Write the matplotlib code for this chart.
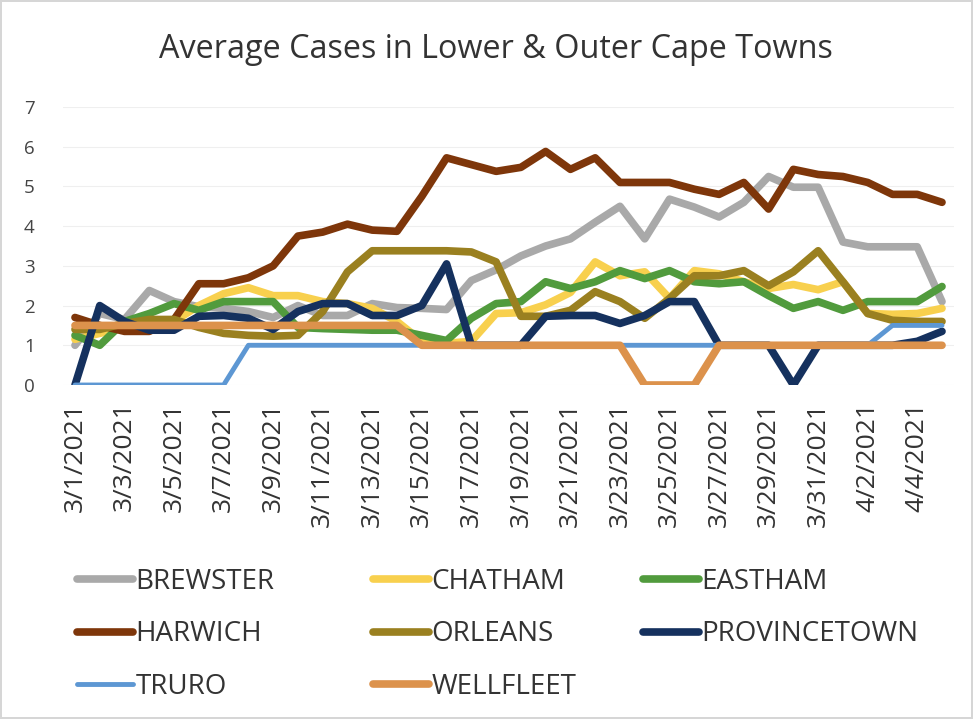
import numpy as np
import pandas as pd
import matplotlib
matplotlib.use('Agg')
import matplotlib.pyplot as plt

plt.rcParams['font.family'] = ['Open Sans', 'DejaVu Sans']

# daily dates, 3/1/2021 .. 4/5/2021
dates = pd.date_range('2021-03-01', '2021-04-05', freq='D')
date_labels = ['%d/%d/%d' % (d.month, d.day, d.year) for d in dates]

towns = ['BREWSTER', 'CHATHAM', 'EASTHAM', 'HARWICH', 'ORLEANS',
         'PROVINCETOWN', 'TRURO', 'WELLFLEET']

brewster = [1.0, 1.8, 1.65, 2.38, 2.1, 1.97, 1.93, 1.85, 1.7, 2.0, 1.75, 1.75,
            2.05, 1.95, 1.93, 1.9, 2.63, 2.9, 3.25, 3.5, 3.68, 4.1, 4.5, 3.68,
            4.68, 4.48, 4.23, 4.6, 5.25, 4.98, 4.98, 3.6, 3.48, 3.48, 3.48, 2.1]
chatham = [1.15, 1.3, 1.45, 1.55, 1.6, 2.0, 2.3, 2.45, 2.25, 2.25, 2.1, 2.05,
           1.93, 1.6, 1.1, 1.05, 1.1, 1.8, 1.82, 2.02, 2.33, 3.1, 2.75, 2.85,
           2.18, 2.88, 2.8, 2.6, 2.43, 2.53, 2.4, 2.6, 1.8, 1.78, 1.8, 1.93]
eastham = [1.25, 1.0, 1.6, 1.8, 2.05, 1.88, 2.1, 2.1, 2.1, 1.45, 1.42, 1.4,
           1.38, 1.38, 1.25, 1.12, 1.68, 2.05, 2.1, 2.6, 2.43, 2.6, 2.88, 2.68,
           2.88, 2.6, 2.55, 2.6, 2.25, 1.93, 2.1, 1.88, 2.1, 2.1, 2.1, 2.48]
harwich = [1.7, 1.5, 1.35, 1.35, 1.65, 2.55, 2.55, 2.7, 3.0, 3.75, 3.85, 4.05,
           3.9, 3.87, 4.75, 5.72, 5.55, 5.38, 5.48, 5.88, 5.43, 5.72, 5.1, 5.1,
           5.1, 4.93, 4.8, 5.1, 4.43, 5.43, 5.3, 5.25, 5.1, 4.8, 4.8, 4.6]
orleans = [1.4, 1.4, 1.55, 1.65, 1.65, 1.45, 1.3, 1.25, 1.23, 1.25, 1.85, 2.85,
           3.38, 3.38, 3.38, 3.38, 3.35, 3.1, 1.73, 1.73, 1.88, 2.35, 2.1, 1.68,
           2.18, 2.75, 2.75, 2.88, 2.5, 2.85, 3.38, 2.6, 1.8, 1.63, 1.6, 1.6]
provincetown = [0.0, 2.0, 1.6, 1.38, 1.38, 1.73, 1.75, 1.68, 1.4, 1.85, 2.05, 2.05,
                1.75, 1.75, 2.0, 3.05, 1.0, 1.0, 1.0, 1.73, 1.75, 1.75, 1.55, 1.75,
                2.1, 2.1, 1.0, 1.0, 1.0, 0.0, 1.0, 1.0, 1.0, 1.0, 1.1, 1.35]
truro = [0.0, 0.0, 0.0, 0.0, 0.0, 0.0, 0.0, 1.0, 1.0, 1.0, 1.0, 1.0,
         1.0, 1.0, 1.0, 1.0, 1.0, 1.0, 1.0, 1.0, 1.0, 1.0, 1.0, 1.0,
         1.0, 1.0, 1.0, 1.0, 1.0, 1.0, 1.0, 1.0, 1.0, 1.5, 1.5, 1.5]
wellfleet = [1.5, 1.5, 1.5, 1.5, 1.5, 1.5, 1.5, 1.5, 1.5, 1.5, 1.5, 1.5,
             1.5, 1.5, 1.0, 1.0, 1.0, 1.0, 1.0, 1.0, 1.0, 1.0, 1.0, 0.0,
             0.0, 0.0, 1.0, 1.0, 1.0, 1.0, 1.0, 1.0, 1.0, 1.0, 1.0, 1.0]

series = [brewster, chatham, eastham, harwich, orleans, provincetown, truro, wellfleet]
colors = ['#a9a9a9', '#f8d04e', '#519b3d', '#7e360a', '#9a8020',
          '#15315e', '#5d97d3', '#dc924c']
widths = [5.5, 5.5, 5.5, 5.5, 5.5, 5.5, 3.5, 5.5]

fig = plt.figure(figsize=(9.73, 7.19), dpi=100)
fig.patch.set_edgecolor('#d6d6d6')
fig.patch.set_linewidth(1.5)
ax = fig.add_axes([62.6/973, 1-385/719, (954.4-62.6)/973, (385-107)/719])

x = np.arange(len(dates))
handles = []
for s, c, w, name in zip(series, colors, widths, towns):
    ln, = ax.plot(x, s, color=c, lw=w, solid_capstyle='round',
                  solid_joinstyle='round', label=name)
    handles.append(ln)

ax.set_xlim(-0.5, len(dates) - 0.5)
ax.set_ylim(0, 7)
ax.set_yticks(range(0, 8))
ax.set_xticks(x[::2])
ax.set_xticklabels(date_labels[::2], rotation=90)
ax.tick_params(axis='x', length=0, pad=12, labelsize=19, colors='#333333')
ax.tick_params(axis='y', length=0, pad=20, labelsize=13.5, colors='#444444')
ax.grid(axis='y', color='#efefef', lw=0.8)
ax.set_axisbelow(True)
for sp in ax.spines.values():
    sp.set_visible(False)

fig.text(496/973, 1-50/719, 'Average Cases in Lower & Outer Cape Towns',
         ha='center', va='center', fontsize=23.3, color='#333333')

# legend laid out row-wise like the original, one legend per column
col_x = [77, 373, 643]
for c in range(3):
    leg = fig.legend(handles=handles[c::3], loc='upper left',
                     bbox_to_anchor=(col_x[c]/973, 1-568/719),
                     frameon=False, fontsize=20, handlelength=2.0,
                     handletextpad=0.1, labelspacing=0.88,
                     borderpad=0, borderaxespad=0)
    for t in leg.get_texts():
        t.set_color('#333333')

plt.savefig('out.png', dpi=100)
